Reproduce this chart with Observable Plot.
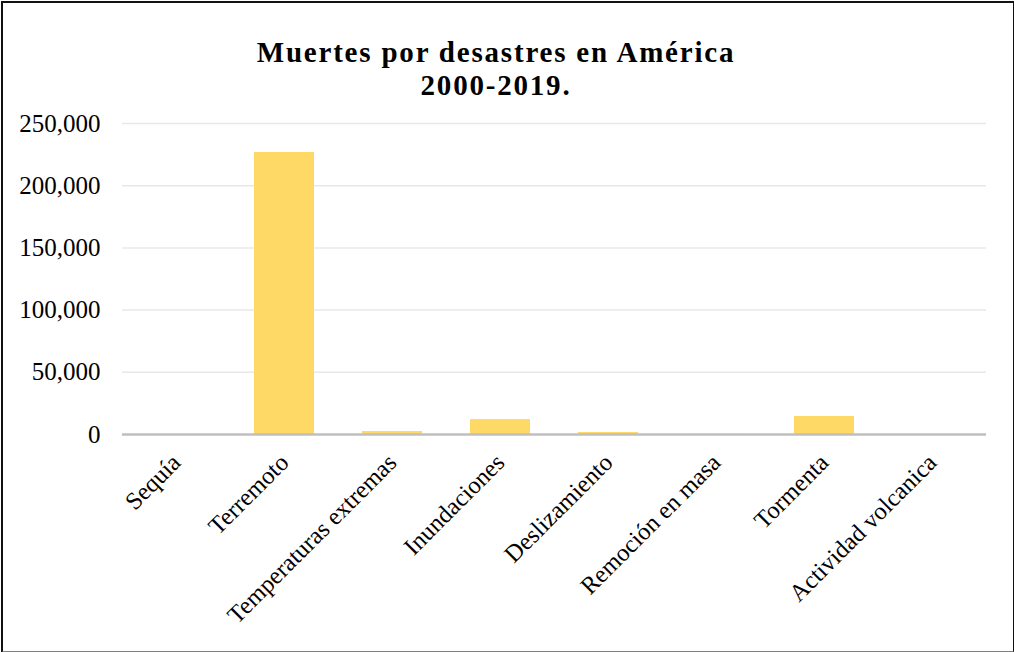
<!DOCTYPE html>
<html>
<head>
<meta charset="utf-8">
<script src="https://cdn.jsdelivr.net/npm/d3@7"></script>
<script src="https://cdn.jsdelivr.net/npm/@observablehq/plot@0.6"></script>
<style>
  html, body { margin: 0; padding: 0; background: #fff; }
  #wrap { position: relative; width: 1014px; height: 652px; overflow: hidden; font-family: "Liberation Serif", "Times New Roman", serif; }
  #frame { position: absolute; left: 1px; top: 1px; width: 1010px; height: 648px; border: 2px solid #111; border-bottom-color: #808080; pointer-events: none; }
  #title { position: absolute; left: 0; top: 36px; width: 992px; text-align: center; font-weight: bold; font-size: 29px; line-height: 33px; letter-spacing: 1.8px; color: #000; }
  #chart { position: absolute; left: 0; top: 110px; }
</style>
</head>
<body>
<div id="wrap">
  <div id="title">Muertes por desastres en América<br>2000-2019.</div>
  <div id="chart"></div>
  <div id="frame"></div>
</div>
<script>
const categories = ["Sequía", "Terremoto", "Temperaturas extremas", "Inundaciones", "Deslizamiento", "Remoción en masa", "Tormenta", "Actividad volcanica"];
const deaths = [40, 226700, 2400, 12000, 1600, 150, 14500, 100];
const yTicks = [0, 50000, 100000, 150000, 200000, 250000];

const data = categories.map((c, i) => ({category: c, value: deaths[i]}));

const chart = Plot.plot({
  width: 1014,
  height: 542,
  marginTop: 13,
  marginLeft: 122,
  marginRight: 28,
  marginBottom: 218,
  style: {fontFamily: "Liberation Serif, Times New Roman, serif", color: "#000", background: "transparent"},
  x: {domain: categories, paddingInner: 0.444, paddingOuter: 0.222, label: null},
  y: {domain: [0, 250000], label: null},
  marks: [
    Plot.gridY(yTicks.filter(d => d > 0), {stroke: "#e8e8e8", strokeOpacity: 1, strokeWidth: 1.5}),
    Plot.barY(data, {x: "category", y: "value", fill: "#fed966"}),
    Plot.ruleY([0], {stroke: "#bfbfbf", strokeWidth: 2.5}),
    Plot.axisY({ticks: yTicks, tickSize: 0, tickPadding: 22, fontSize: 25, tickFormat: d3.format(","), label: null}),
    Plot.axisX({tickSize: 0, tickRotate: -45, tickPadding: 24, fontSize: 24.5, label: null})
  ]
});
document.getElementById("chart").appendChild(chart);
</script>
</body>
</html>
